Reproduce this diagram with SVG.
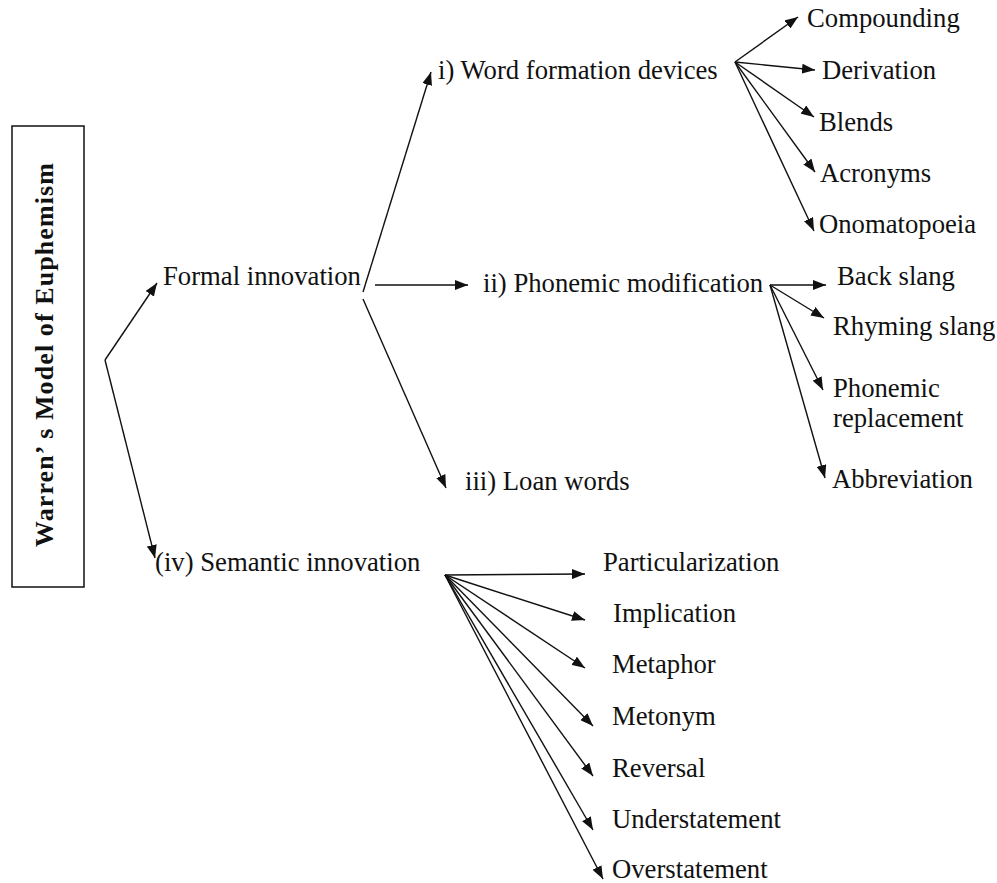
<svg xmlns="http://www.w3.org/2000/svg" width="997" height="883" viewBox="0 0 997 883">
<style>
  text { font-family: "Liberation Serif", "Times New Roman", Tinos, "DejaVu Serif", serif; font-size: 26.7px; fill: #111; }
  .title { font-weight: bold; font-size: 26px; }
  .c line { stroke: #111; stroke-width: 1.4; marker-end: url(#ah); }
  .box { fill: #fff; stroke: #111; stroke-width: 1.5; }
</style>
<defs>
  <marker id="ah" markerUnits="userSpaceOnUse" markerWidth="14" markerHeight="10" refX="13" refY="5" orient="auto">
    <path d="M0,0 L13,5 L0,10 z" fill="#111"/>
  </marker>
</defs>
<rect width="997" height="883" fill="#fff"/>

<g id="title">
  <rect class="box" x="12" y="126" width="72" height="461"/>
  <text class="title" transform="translate(53,355) rotate(-90)" text-anchor="middle" textLength="384">Warren’ s Model of Euphemism</text>
</g>

<g class="c" id="connectors">
  <line x1="105" y1="360" x2="157" y2="283"/>
  <line x1="105" y1="360" x2="155" y2="558"/>
  <line x1="363" y1="292" x2="431" y2="72"/>
  <line x1="375" y1="285" x2="468" y2="285"/>
  <line x1="363" y1="299" x2="446" y2="488"/>
  <line x1="735" y1="62" x2="798" y2="17"/>
  <line x1="735" y1="62" x2="815" y2="70"/>
  <line x1="735" y1="62" x2="814" y2="117"/>
  <line x1="735" y1="62" x2="815" y2="172"/>
  <line x1="735" y1="62" x2="814" y2="231"/>
  <line x1="770" y1="285" x2="826" y2="285"/>
  <line x1="770" y1="285" x2="824" y2="318"/>
  <line x1="770" y1="285" x2="823" y2="390"/>
  <line x1="770" y1="285" x2="825" y2="478"/>
  <line x1="445" y1="575" x2="585" y2="574"/>
  <line x1="445" y1="575" x2="585" y2="620"/>
  <line x1="445" y1="575" x2="585" y2="668"/>
  <line x1="445" y1="575" x2="593" y2="726"/>
  <line x1="445" y1="575" x2="593" y2="776"/>
  <line x1="445" y1="575" x2="593" y2="830"/>
  <line x1="445" y1="575" x2="603" y2="879"/>
</g>

<g id="formal"><text x="163" y="285">Formal innovation</text></g>
<g id="semantic"><text x="155" y="571">(iv) Semantic innovation</text></g>
<g id="word-formation"><text x="438" y="79">i) Word formation devices</text></g>
<g id="phonemic-mod"><text x="483" y="292">ii) Phonemic modification</text></g>
<g id="loan"><text x="465" y="490">iii) Loan words</text></g>

<g id="compounding"><text x="807" y="27">Compounding</text></g>
<g id="derivation"><text x="822" y="79">Derivation</text></g>
<g id="blends"><text x="819" y="131">Blends</text></g>
<g id="acronyms"><text x="820" y="182">Acronyms</text></g>
<g id="onomatopoeia"><text x="819" y="233">Onomatopoeia</text></g>

<g id="back-slang"><text x="837" y="285">Back slang</text></g>
<g id="rhyming-slang"><text x="833" y="335">Rhyming slang</text></g>
<g id="phonemic-replacement"><text x="833" y="397">Phonemic</text><text x="833" y="427">replacement</text></g>
<g id="abbreviation"><text x="832" y="488">Abbreviation</text></g>

<g id="particularization"><text x="603" y="571">Particularization</text></g>
<g id="implication"><text x="613" y="622">Implication</text></g>
<g id="metaphor"><text x="612" y="673">Metaphor</text></g>
<g id="metonym"><text x="612" y="725">Metonym</text></g>
<g id="reversal"><text x="612" y="777">Reversal</text></g>
<g id="understatement"><text x="612" y="828">Understatement</text></g>
<g id="overstatement"><text x="612" y="878">Overstatement</text></g>
</svg>
